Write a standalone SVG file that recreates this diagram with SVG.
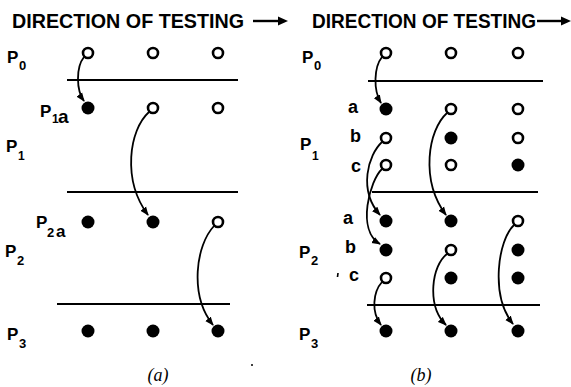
<svg xmlns="http://www.w3.org/2000/svg" width="571" height="387" viewBox="0 0 571 387">
<style>
.t{font-family:"Liberation Sans",Arial,sans-serif;font-weight:bold;font-size:20px;fill:#000}
.l{font-family:"Liberation Sans",Arial,sans-serif;font-weight:bold;font-size:17px;fill:#000}
.s{font-family:"Liberation Sans",Arial,sans-serif;font-weight:bold;font-size:13px;fill:#000}
.cap{font-family:"Liberation Serif","Times New Roman",serif;font-style:italic;font-size:18px;fill:#000}
.h{fill:#fff;stroke:#000;stroke-width:2.6}
.f{fill:#000}
.sep{stroke:#000;stroke-width:2.2}
.c{fill:none;stroke:#000;stroke-width:1.8}
</style>
<defs>
<marker id="ah" markerUnits="userSpaceOnUse" markerWidth="10" markerHeight="8" refX="8" refY="4" orient="auto">
<path d="M0,0.5 L9,4 L0,7.5 Z" fill="#000"/>
</marker>
</defs>

<g id="titles">
<text class="t" x="12" y="28" textLength="232" lengthAdjust="spacingAndGlyphs">DIRECTION OF TESTING</text>
<path d="M253,21 L280,21" stroke="#000" stroke-width="2.4"/>
<path d="M278,16.5 L288,21 L278,25.5 Z" fill="#000"/>
<text class="t" x="312" y="28" textLength="224" lengthAdjust="spacingAndGlyphs">DIRECTION OF TESTING</text>
<path d="M537,21 L563,21" stroke="#000" stroke-width="2.4"/>
<path d="M561,16.5 L571,21 L561,25.5 Z" fill="#000"/>
</g>

<g id="labels-a">
<text class="l" x="7" y="63">P</text><text class="s" x="19" y="70">0</text>
<text class="l" x="40" y="117">P</text><text class="s" x="52" y="123" style="font-size:12px">1</text><text class="l" x="58" y="123" style="font-size:19px">a</text>
<text class="l" x="6" y="152">P</text><text class="s" x="18" y="160" style="font-size:12px">1</text>
<text class="l" x="36" y="228">P</text><text class="s" x="47" y="237">2</text><text class="l" x="56" y="237">a</text>
<text class="l" x="5" y="257">P</text><text class="s" x="17" y="265">2</text>
<text class="l" x="7" y="340">P</text><text class="s" x="19" y="348">3</text>
</g>

<g id="labels-b">
<text class="l" x="302" y="63">P</text><text class="s" x="314" y="70">0</text>
<text class="l" x="300" y="150">P</text><text class="s" x="312" y="160" style="font-size:12px">1</text>
<text class="l" x="348" y="113" style="font-size:18px">a</text>
<text class="l" x="350" y="142" style="font-size:18px">b</text>
<text class="l" x="351" y="172" style="font-size:18px">c</text>
<text class="l" x="299" y="258">P</text><text class="s" x="311" y="265">2</text>
<text class="l" x="343" y="224" style="font-size:18px">a</text>
<text class="l" x="345" y="253" style="font-size:18px">b</text>
<text class="l" x="349" y="281" style="font-size:18px">c</text>
<path d="M338,273 L337.5,277" stroke="#000" stroke-width="1.6"/>
<text class="l" x="299" y="340">P</text><text class="s" x="311" y="348">3</text>
</g>

<g id="separators">
<line class="sep" x1="67" y1="80" x2="238" y2="80"/>
<line class="sep" x1="67" y1="192" x2="238" y2="192"/>
<line class="sep" x1="57" y1="304" x2="230" y2="304"/>
<line class="sep" x1="368" y1="81" x2="543" y2="81"/>
<line class="sep" x1="372" y1="192" x2="538" y2="192"/>
<line class="sep" x1="367" y1="305" x2="540" y2="305"/>
</g>

<g id="nodes-a">
<circle class="h" cx="88" cy="53" r="5"/>
<circle class="h" cx="153" cy="53" r="5"/>
<circle class="h" cx="218" cy="53" r="5"/>
<circle class="f" cx="88" cy="108" r="6.5"/>
<circle class="h" cx="153" cy="108" r="5"/>
<circle class="h" cx="218" cy="108" r="5"/>
<circle class="f" cx="88" cy="222" r="6.5"/>
<circle class="f" cx="153" cy="222" r="6.5"/>
<circle class="h" cx="218" cy="222" r="5"/>
<circle class="f" cx="88" cy="331" r="6.5"/>
<circle class="f" cx="153" cy="331" r="6.5"/>
<circle class="f" cx="218" cy="331" r="6.5"/>
</g>

<g id="nodes-b">
<circle class="h" cx="386" cy="53" r="5"/>
<circle class="h" cx="451" cy="53" r="5"/>
<circle class="h" cx="518" cy="53" r="5"/>
<circle class="f" cx="386" cy="109" r="6.5"/>
<circle class="h" cx="451" cy="109" r="5"/>
<circle class="h" cx="518" cy="109" r="5"/>
<circle class="h" cx="386" cy="138" r="5"/>
<circle class="f" cx="451" cy="138" r="6.5"/>
<circle class="h" cx="518" cy="138" r="5"/>
<circle class="h" cx="386" cy="165" r="5"/>
<circle class="h" cx="451" cy="165" r="5"/>
<circle class="f" cx="518" cy="165" r="6.5"/>
<circle class="f" cx="386" cy="221" r="6.5"/>
<circle class="f" cx="451" cy="221" r="6.5"/>
<circle class="h" cx="518" cy="221" r="5"/>
<circle class="f" cx="386" cy="250" r="6.5"/>
<circle class="h" cx="451" cy="250" r="5"/>
<circle class="f" cx="518" cy="250" r="6.5"/>
<circle class="h" cx="386" cy="278" r="5"/>
<circle class="f" cx="451" cy="278" r="6.5"/>
<circle class="f" cx="518" cy="278" r="6.5"/>
<circle class="f" cx="386" cy="331" r="6.5"/>
<circle class="f" cx="451" cy="331" r="6.5"/>
<circle class="f" cx="518" cy="331" r="6.5"/>
</g>

<g id="connectors">
<path class="c" marker-end="url(#ah)" d="M84,57 C76,67 76,90 84,101"/>
<path class="c" marker-end="url(#ah)" d="M149,112 C129,130 122,180 148,215"/>
<path class="c" marker-end="url(#ah)" d="M214,226 C196,245 189,295 213,325"/>
<path class="c" marker-end="url(#ah)" d="M382,57 C374,67 373,90 381,103"/>
<path class="c" marker-end="url(#ah)" d="M447,113 C428,130 420,180 446,215"/>
<path class="c" marker-end="url(#ah)" d="M382,142 C368,155 358,190 380,215"/>
<path class="c" marker-end="url(#ah)" d="M382,169 C370,180 356,230 380,244"/>
<path class="c" marker-end="url(#ah)" d="M447,254 C432,265 426,305 446,325"/>
<path class="c" marker-end="url(#ah)" d="M382,282 C373,292 371,312 381,325"/>
<path class="c" marker-end="url(#ah)" d="M514,225 C498,240 490,295 513,324"/>
</g>

<g id="captions">
<text class="cap" x="158" y="381" text-anchor="middle">(a)</text>
<text class="cap" x="421" y="381" text-anchor="middle">(b)</text>
<circle cx="252" cy="365" r="1" fill="#000"/>
</g>
</svg>
